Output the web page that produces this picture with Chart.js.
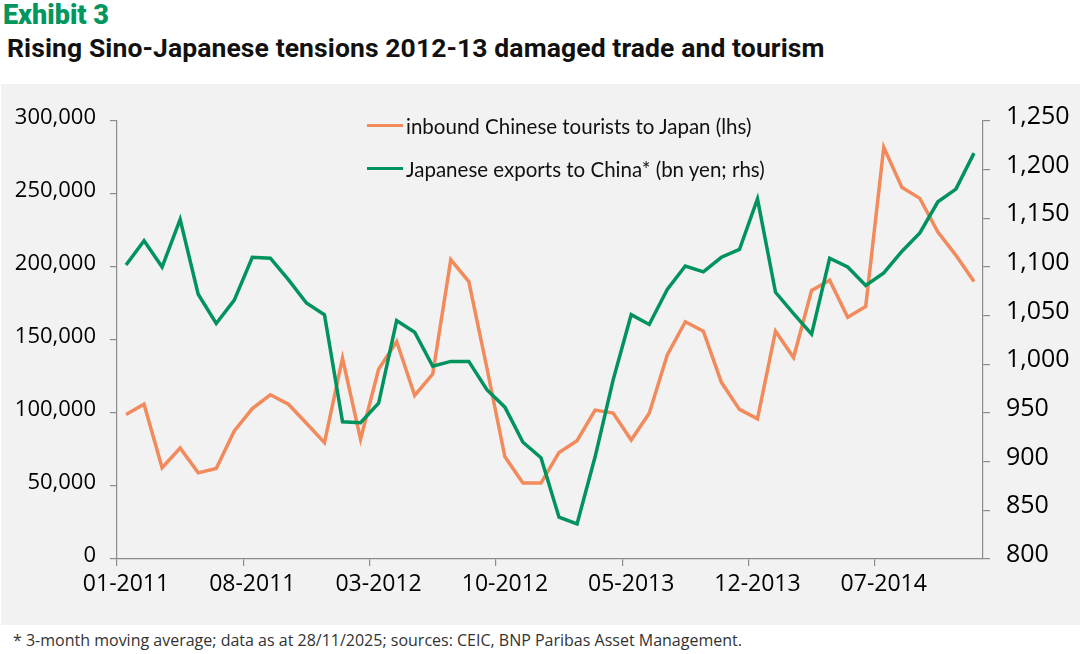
<!DOCTYPE html>
<html>
<head>
<meta charset="utf-8">
<script src="https://cdn.jsdelivr.net/npm/chart.js@4.4.1/dist/chart.umd.min.js"></script>
<style>
  html, body { margin: 0; padding: 0; background: #fff; }
  body { width: 1080px; height: 654px; position: relative; overflow: hidden; font-family: "Open Sans", sans-serif; }
  #exhibit { position: absolute; left: 3px; top: 2px; font: 900 27px/27px Roboto, sans-serif; color: #00965e; }
  #title { position: absolute; left: 7px; top: 35px; font: 700 26.5px/26px Roboto, sans-serif; color: #111; letter-spacing: 0.1px; }
  #box { position: absolute; left: 1px; top: 84px; width: 1079px; height: 541px; background: #f2f2f2; }
  #legend { position: absolute; left: 366px; top: 20px; font: 20.5px Lato, sans-serif; color: #111; }
  #legend .row { display: flex; align-items: center; height: 43px; }
  #legend .swatch { width: 36px; height: 3.5px; margin-right: 3px; }
  #note { position: absolute; left: 13px; top: 632px; font: 16px/16px "Open Sans", sans-serif; color: #333; }
</style>
</head>
<body>
<div id="exhibit">Exhibit 3</div>
<div id="title">Rising Sino-Japanese tensions 2012-13 damaged trade and tourism</div>
<div id="box">
  <canvas id="chart" width="1079" height="541"></canvas>
  <div id="legend"></div>
</div>
<div id="note">* 3-month moving average; data as at 28/11/2025; sources: CEIC, BNP Paribas Asset Management.</div>
<script>
const months = [
  "01-2011", "02-2011", "03-2011", "04-2011", "05-2011", "06-2011", "07-2011", "08-2011", "09-2011", "10-2011", "11-2011", "12-2011",
  "01-2012", "02-2012", "03-2012", "04-2012", "05-2012", "06-2012", "07-2012", "08-2012", "09-2012", "10-2012", "11-2012", "12-2012",
  "01-2013", "02-2013", "03-2013", "04-2013", "05-2013", "06-2013", "07-2013", "08-2013", "09-2013", "10-2013", "11-2013", "12-2013",
  "01-2014", "02-2014", "03-2014", "04-2014", "05-2014", "06-2014", "07-2014", "08-2014", "09-2014", "10-2014", "11-2014", "12-2014",
];
// inbound Chinese tourists to Japan (lhs)
const tourists = [
  99000, 106000, 62500, 76000, 59000, 62000, 87700, 103000, 112500, 106000, 93000, 79700,
  137500, 82000, 130000, 149000, 112000, 126700, 205000, 190000, 131000, 70000, 52000, 52000,
  73000, 81000, 102000, 100000, 81500, 99800, 139700, 162500, 156000, 121000, 102500, 96000,
  156000, 138000, 184000, 191000, 165500, 173000, 282000, 254600, 247000, 224000, 208000, 190000,
];
// Japanese exports to China, bn yen, 3m avg (rhs)
const exports = [
  1102, 1127, 1100, 1149, 1072, 1042, 1066, 1110, 1109, 1087, 1063, 1051,
  941, 940, 960, 1045, 1033, 998, 1003, 1003, 974, 956, 920, 904,
  843, 836, 905, 984, 1051, 1041, 1077, 1101, 1095, 1110, 1118, 1170,
  1074, 1052, 1031, 1109, 1100, 1081, 1094, 1116, 1135, 1167, 1180, 1217,
];
const ORANGE = "#f28a5b", GREEN = "#00935d", AXIS = "#8c8c8c", INK = "#000";

const axisGrid = { drawOnChartArea: false, drawTicks: true, tickLength: 7, color: AXIS, lineWidth: 1.2 };
const fmt = (v) => v.toLocaleString("en-US");

const chart = new Chart(document.getElementById("chart"), {
  type: "line",
  data: {
    labels: months,
    datasets: [
      { label: "inbound Chinese tourists to Japan (lhs)", data: tourists, yAxisID: "yL",
        borderColor: ORANGE, borderWidth: 3.5, pointRadius: 0, tension: 0, order: 1 },
      { label: "Japanese exports to China* (bn yen; rhs)", data: exports, yAxisID: "yR",
        borderColor: GREEN, borderWidth: 3.5, pointRadius: 0, tension: 0, order: 0 },
    ],
  },
  options: {
    responsive: false,
    animation: false,
    layout: { padding: { top: 37, left: 0, right: 0, bottom: 0 } },
    plugins: { legend: { display: false }, tooltip: { enabled: false } },
    scales: {
      x: {
        offset: true,
        afterFit: (s) => { s.height = 66; },
        border: { display: true, color: AXIS, width: 1.2 },
        grid: { ...axisGrid, offset: true,
                color: (ctx) => (ctx.index % 7 === 0 ? AXIS : "transparent") },
        ticks: { autoSkip: false, maxRotation: 0, padding: 5, color: INK,
                 font: { family: "Open Sans", size: 23, weight: 500 },
                 callback: (v, i) => (i % 7 === 0 ? months[i] : "") },
      },
      yL: {
        position: "left", min: 0, max: 300000,
        afterFit: (s) => { s.width = 116; },
        border: { display: true, color: AXIS, width: 1.2 },
        grid: axisGrid,
        ticks: { stepSize: 50000, padding: 14, labelOffset: -3, color: INK,
                 font: { family: "Open Sans", size: 22, weight: 500 }, callback: fmt },
      },
      yR: {
        position: "right", min: 800, max: 1250,
        afterFit: (s) => { s.width = 97; },
        border: { display: true, color: AXIS, width: 1.2 },
        grid: axisGrid,
        ticks: { stepSize: 50, padding: 16, labelOffset: -4, color: INK,
                 font: { family: "Open Sans", size: 25, weight: 500 }, callback: fmt },
      },
    },
  },
});

const legend = document.getElementById("legend");
for (const ds of chart.data.datasets) {
  const row = document.createElement("div");
  row.className = "row";
  const sw = document.createElement("span");
  sw.className = "swatch";
  sw.style.background = ds.borderColor;
  const txt = document.createElement("span");
  txt.textContent = ds.label;
  row.appendChild(sw);
  row.appendChild(txt);
  legend.appendChild(row);
}
</script>
</body>
</html>
